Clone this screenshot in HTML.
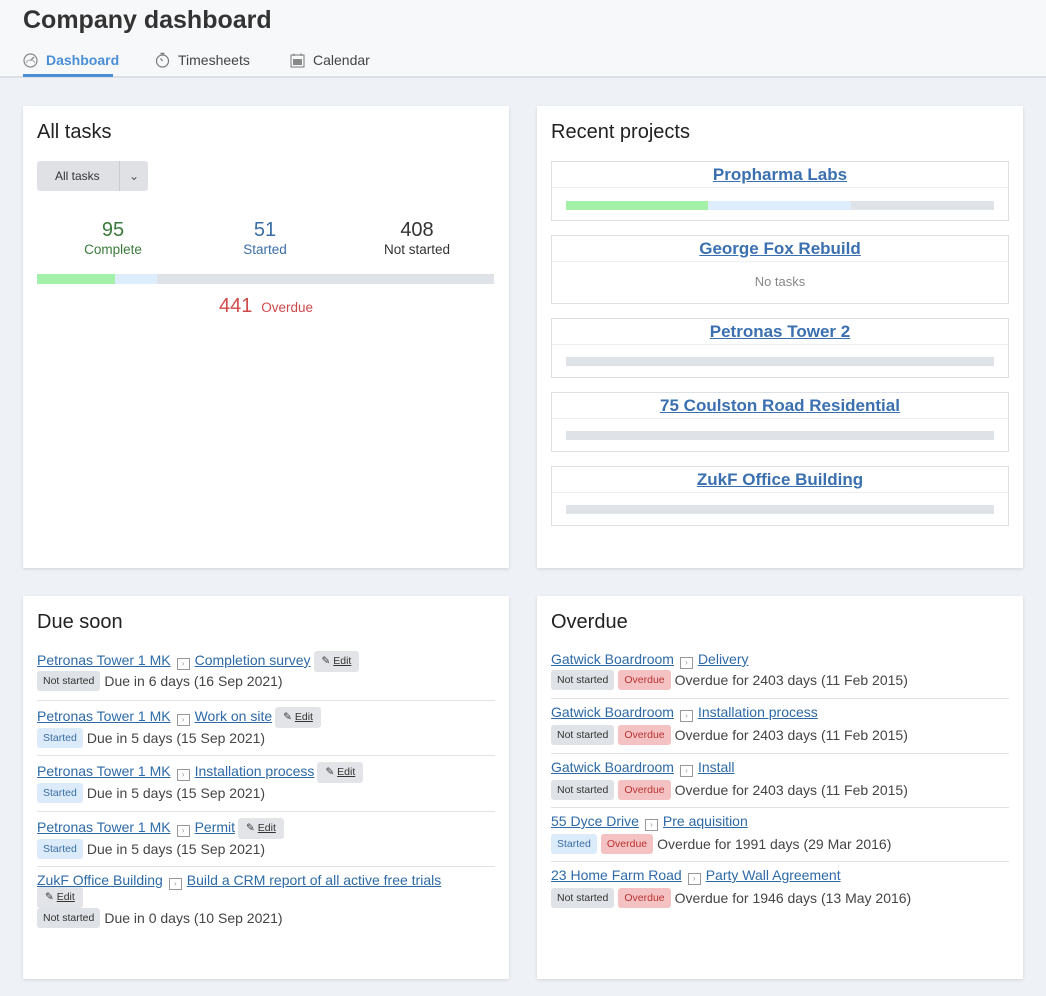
<!DOCTYPE html>
<html><head><meta charset="utf-8">
<style>
*{box-sizing:border-box;margin:0;padding:0}
body{width:1046px;height:996px;background:#eef1f5;font-family:"Liberation Sans",sans-serif;color:#333;position:relative;overflow:hidden}
.hdr{position:absolute;left:0;top:0;width:1046px;height:78px;background:#f7f8fa;border-bottom:2px solid #dde1e6}
h1{position:absolute;left:23px;top:6px;font-size:25px;font-weight:bold;color:#333}
.tab{position:absolute;top:52px;font-size:14px;color:#444;display:flex;align-items:center;gap:8px}
.card{position:absolute;background:#fff;box-shadow:0 1px 3px rgba(0,0,0,.12)}
.card h2{position:absolute;left:14px;top:15px;font-size:20px;font-weight:normal;color:#222}
a{color:#2d6aa7;text-decoration:underline}
.abs{position:absolute}
.bar{position:absolute;height:10px;background:#dfe2e6;display:flex}
.bar div{height:100%}
.proj{position:absolute;left:14px;width:458px;border:1px solid #dcdfe3}
.proj .t{height:26px;border-bottom:1px solid #eceef0;text-align:center;font-size:17px;line-height:26px}
.proj .t a{font-weight:bold;color:#3a70b0}
.row{position:absolute;left:14px;width:458px;border-bottom:1px solid #dfe2e6;font-size:14px}
.l1{position:absolute;left:0;top:3px;white-space:nowrap}
.l2{position:absolute;left:0;white-space:nowrap;display:flex;align-items:center;gap:4px;color:#444}
.ic{display:inline-block;width:13px;height:12px;border:1px solid #999;vertical-align:-1px;margin:0 5px 0 6px;font-size:8px;line-height:10px;text-align:center;color:#999}
.b{display:inline-block;font-size:10.5px;padding:0 6px;height:20px;line-height:20px;border-radius:3px}
.ns{background:#dfe2e6;color:#333}.st{background:#dcebfa;color:#3a6ea5}.od{background:#f4c2c2;color:#b33}
.ed{display:inline-block;background:#e2e4e7;border-radius:3px;font-size:10.5px;padding:0 8px;height:21px;line-height:21px;margin-left:3px;vertical-align:middle}
.ed a{color:#333}
</style></head><body>
<div class="hdr">
<h1>Company dashboard</h1>
<div class="tab" style="left:23px;color:#4a8fd6;font-weight:bold"><svg width="15" height="15" viewBox="0 0 15 15"><circle cx="7.5" cy="7.5" r="6.5" fill="none" stroke="#888" stroke-width="1.2"/><line x1="7.5" y1="7.5" x2="11" y2="4" stroke="#888" stroke-width="1.3"/><path d="M3 10 A5 5 0 0 1 12 10" fill="none" stroke="#aaa"/></svg>Dashboard</div>
<div class="abs" style="left:23px;top:74px;width:90px;height:3px;background:#4a8fd6"></div>
<div class="tab" style="left:155px"><svg width="15" height="16" viewBox="0 0 15 16"><circle cx="7.5" cy="9" r="6" fill="none" stroke="#777" stroke-width="1.2"/><line x1="5.5" y1="1.5" x2="9.5" y2="1.5" stroke="#777" stroke-width="1.4"/><line x1="7.5" y1="9" x2="5.5" y2="6.5" stroke="#777" stroke-width="1.2"/></svg>Timesheets</div>
<div class="tab" style="left:290px"><svg width="15" height="15" viewBox="0 0 15 15"><rect x="1" y="2" width="13" height="12" fill="none" stroke="#777"/><rect x="3" y="6" width="9" height="6" fill="#888"/><line x1="4" y1="0.5" x2="4" y2="3" stroke="#777"/><line x1="11" y1="0.5" x2="11" y2="3" stroke="#777"/></svg>Calendar</div>
</div>

<div class="card" style="left:23px;top:106px;width:486px;height:462px">
<h2>All tasks</h2>
<div class="abs" style="left:14px;top:55px;width:111px;height:30px;background:#dfe1e4;border-radius:3px;font-size:12px;line-height:30px"><span style="margin-left:18px">All tasks</span><span style="position:absolute;left:82px;top:0;width:29px;height:30px;border-left:1px solid #ccc;text-align:center;color:#555">⌄</span></div>
<div class="abs" style="left:14px;top:113px;width:152px;text-align:center;color:#3a7a3a"><div style="font-size:20px">95</div><div style="font-size:13.5px">Complete</div></div>
<div class="abs" style="left:166px;top:113px;width:152px;text-align:center;color:#3a6ea5"><div style="font-size:20px">51</div><div style="font-size:13.5px">Started</div></div>
<div class="abs" style="left:318px;top:113px;width:152px;text-align:center;color:#333"><div style="font-size:20px">408</div><div style="font-size:13.5px">Not started</div></div>
<div class="bar" style="left:14px;top:168px;width:457px"><div style="width:78px;background:#a3f0a8"></div><div style="width:42px;background:#deedfb"></div></div>
<div class="abs" style="left:0;top:189px;width:486px;text-align:center;color:#d04a4a"><span style="font-size:20px">441</span> &nbsp;<span style="font-size:13.5px">Overdue</span></div>
</div>

<div class="card" style="left:537px;top:106px;width:486px;height:462px">
<h2>Recent projects</h2>
<div class="proj" style="top:55px;height:60px"><div class="t"><a>Propharma Labs</a></div><div class="bar" style="left:14px;top:39px;width:428px;height:9px"><div style="width:142px;background:#a3f0a8"></div><div style="width:143px;background:#deedfb"></div></div></div>
<div class="proj" style="top:129px;height:69px"><div class="t"><a>George Fox Rebuild</a></div><div style="text-align:center;font-size:13px;color:#888;margin-top:12px">No tasks</div></div>
<div class="proj" style="top:212px;height:60px"><div class="t"><a>Petronas Tower 2</a></div><div class="bar" style="left:14px;top:38px;width:428px;height:9px"></div></div>
<div class="proj" style="top:286px;height:60px"><div class="t"><a>75 Coulston Road Residential</a></div><div class="bar" style="left:14px;top:38px;width:428px;height:9px"></div></div>
<div class="proj" style="top:360px;height:60px"><div class="t"><a>ZukF Office Building</a></div><div class="bar" style="left:14px;top:38px;width:428px;height:9px"></div></div>
</div>

<div class="card" style="left:23px;top:596px;width:486px;height:383px">
<h2>Due soon</h2>
<div class="row" style="top:52px;height:53px"><div class="l1"><a>Petronas Tower 1 MK</a><span class="ic">›</span><a>Completion survey</a><span class="ed">✎ <a>Edit</a></span></div><div class="l2" style="top:23px"><span class="b ns">Not started</span> Due in 6 days (16 Sep 2021)</div></div>
<div class="row" style="top:105px;height:55px"><div class="l1" style="top:6px"><a>Petronas Tower 1 MK</a><span class="ic">›</span><a>Work on site</a><span class="ed">✎ <a>Edit</a></span></div><div class="l2" style="top:27px"><span class="b st">Started</span> Due in 5 days (15 Sep 2021)</div></div>
<div class="row" style="top:160px;height:56px"><div class="l1" style="top:6px"><a>Petronas Tower 1 MK</a><span class="ic">›</span><a>Installation process</a><span class="ed">✎ <a>Edit</a></span></div><div class="l2" style="top:27px"><span class="b st">Started</span> Due in 5 days (15 Sep 2021)</div></div>
<div class="row" style="top:216px;height:55px"><div class="l1" style="top:6px"><a>Petronas Tower 1 MK</a><span class="ic">›</span><a>Permit</a><span class="ed">✎ <a>Edit</a></span></div><div class="l2" style="top:27px"><span class="b st">Started</span> Due in 5 days (15 Sep 2021)</div></div>
<div class="row" style="top:271px;height:70px;border:none"><div class="l1" style="top:5px"><a>ZukF Office Building</a><span class="ic">›</span><a>Build a CRM report of all active free trials</a></div><div class="abs" style="left:0;top:20px"><span class="ed" style="margin:0">✎ <a>Edit</a></span></div><div class="l2" style="top:41px"><span class="b ns">Not started</span> Due in 0 days (10 Sep 2021)</div></div>
</div>

<div class="card" style="left:537px;top:596px;width:486px;height:383px">
<h2>Overdue</h2>
<div class="row" style="top:52px;height:51px"><div class="l1"><a>Gatwick Boardroom</a><span class="ic">›</span><a>Delivery</a></div><div class="l2" style="top:22px"><span class="b ns">Not started</span> <span class="b od">Overdue</span> Overdue for 2403 days (11 Feb 2015)</div></div>
<div class="row" style="top:103px;height:55px"><div class="l1" style="top:5px"><a>Gatwick Boardroom</a><span class="ic">›</span><a>Installation process</a></div><div class="l2" style="top:26px"><span class="b ns">Not started</span> <span class="b od">Overdue</span> Overdue for 2403 days (11 Feb 2015)</div></div>
<div class="row" style="top:158px;height:54px"><div class="l1" style="top:5px"><a>Gatwick Boardroom</a><span class="ic">›</span><a>Install</a></div><div class="l2" style="top:26px"><span class="b ns">Not started</span> <span class="b od">Overdue</span> Overdue for 2403 days (11 Feb 2015)</div></div>
<div class="row" style="top:212px;height:54px"><div class="l1" style="top:5px"><a>55 Dyce Drive</a><span class="ic">›</span><a>Pre aquisition</a></div><div class="l2" style="top:26px"><span class="b st">Started</span> <span class="b od">Overdue</span> Overdue for 1991 days (29 Mar 2016)</div></div>
<div class="row" style="top:266px;height:54px;border:none"><div class="l1" style="top:5px"><a>23 Home Farm Road</a><span class="ic">›</span><a>Party Wall Agreement</a></div><div class="l2" style="top:26px"><span class="b ns">Not started</span> <span class="b od">Overdue</span> Overdue for 1946 days (13 May 2016)</div></div>
</div>
</body></html>
